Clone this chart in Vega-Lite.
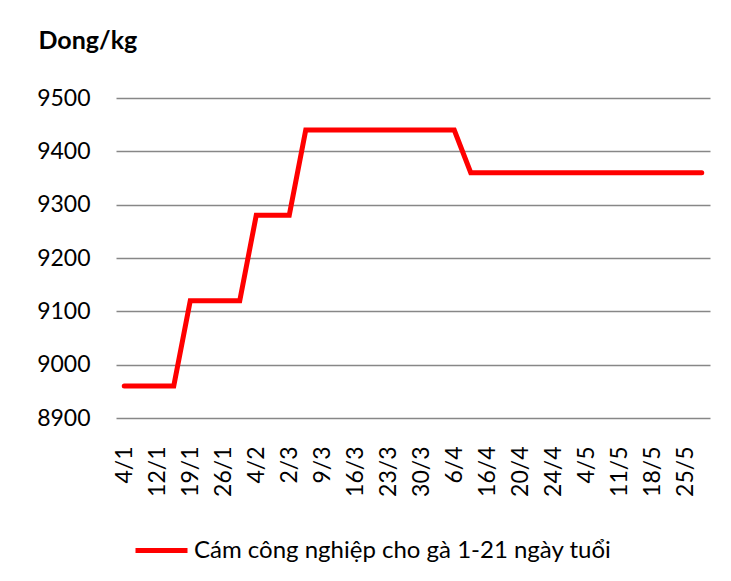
{
  "$schema": "https://vega.github.io/schema/vega-lite/v6.json",
  "width": 594,
  "height": 320,
  "autosize": "none",
  "padding": {"left": 116, "top": 98, "right": 21, "bottom": 163},
  "background": "white",
  "config": {
    "view": {"stroke": null},
    "font": "Lato"
  },
  "data": {
    "values": [
      {"date": "4/1", "price": 8960, "series": "Cám công nghiệp cho gà 1-21 ngày tuổi"},
      {"date": "8/1", "price": 8960, "series": "Cám công nghiệp cho gà 1-21 ngày tuổi"},
      {"date": "12/1", "price": 8960, "series": "Cám công nghiệp cho gà 1-21 ngày tuổi"},
      {"date": "15/1", "price": 8960, "series": "Cám công nghiệp cho gà 1-21 ngày tuổi"},
      {"date": "19/1", "price": 9120, "series": "Cám công nghiệp cho gà 1-21 ngày tuổi"},
      {"date": "22/1", "price": 9120, "series": "Cám công nghiệp cho gà 1-21 ngày tuổi"},
      {"date": "26/1", "price": 9120, "series": "Cám công nghiệp cho gà 1-21 ngày tuổi"},
      {"date": "29/1", "price": 9120, "series": "Cám công nghiệp cho gà 1-21 ngày tuổi"},
      {"date": "4/2", "price": 9280, "series": "Cám công nghiệp cho gà 1-21 ngày tuổi"},
      {"date": "23/2", "price": 9280, "series": "Cám công nghiệp cho gà 1-21 ngày tuổi"},
      {"date": "2/3", "price": 9280, "series": "Cám công nghiệp cho gà 1-21 ngày tuổi"},
      {"date": "5/3", "price": 9440, "series": "Cám công nghiệp cho gà 1-21 ngày tuổi"},
      {"date": "9/3", "price": 9440, "series": "Cám công nghiệp cho gà 1-21 ngày tuổi"},
      {"date": "12/3", "price": 9440, "series": "Cám công nghiệp cho gà 1-21 ngày tuổi"},
      {"date": "16/3", "price": 9440, "series": "Cám công nghiệp cho gà 1-21 ngày tuổi"},
      {"date": "19/3", "price": 9440, "series": "Cám công nghiệp cho gà 1-21 ngày tuổi"},
      {"date": "23/3", "price": 9440, "series": "Cám công nghiệp cho gà 1-21 ngày tuổi"},
      {"date": "26/3", "price": 9440, "series": "Cám công nghiệp cho gà 1-21 ngày tuổi"},
      {"date": "30/3", "price": 9440, "series": "Cám công nghiệp cho gà 1-21 ngày tuổi"},
      {"date": "2/4", "price": 9440, "series": "Cám công nghiệp cho gà 1-21 ngày tuổi"},
      {"date": "6/4", "price": 9440, "series": "Cám công nghiệp cho gà 1-21 ngày tuổi"},
      {"date": "9/4", "price": 9360, "series": "Cám công nghiệp cho gà 1-21 ngày tuổi"},
      {"date": "16/4", "price": 9360, "series": "Cám công nghiệp cho gà 1-21 ngày tuổi"},
      {"date": "18/4", "price": 9360, "series": "Cám công nghiệp cho gà 1-21 ngày tuổi"},
      {"date": "20/4", "price": 9360, "series": "Cám công nghiệp cho gà 1-21 ngày tuổi"},
      {"date": "22/4", "price": 9360, "series": "Cám công nghiệp cho gà 1-21 ngày tuổi"},
      {"date": "24/4", "price": 9360, "series": "Cám công nghiệp cho gà 1-21 ngày tuổi"},
      {"date": "27/4", "price": 9360, "series": "Cám công nghiệp cho gà 1-21 ngày tuổi"},
      {"date": "4/5", "price": 9360, "series": "Cám công nghiệp cho gà 1-21 ngày tuổi"},
      {"date": "7/5", "price": 9360, "series": "Cám công nghiệp cho gà 1-21 ngày tuổi"},
      {"date": "11/5", "price": 9360, "series": "Cám công nghiệp cho gà 1-21 ngày tuổi"},
      {"date": "14/5", "price": 9360, "series": "Cám công nghiệp cho gà 1-21 ngày tuổi"},
      {"date": "18/5", "price": 9360, "series": "Cám công nghiệp cho gà 1-21 ngày tuổi"},
      {"date": "21/5", "price": 9360, "series": "Cám công nghiệp cho gà 1-21 ngày tuổi"},
      {"date": "25/5", "price": 9360, "series": "Cám công nghiệp cho gà 1-21 ngày tuổi"},
      {"date": "28/5", "price": 9360, "series": "Cám công nghiệp cho gà 1-21 ngày tuổi"}
    ]
  },
  "mark": {"type": "line", "strokeWidth": 5, "strokeCap": "round"},
  "encoding": {
    "x": {
      "field": "date",
      "type": "nominal",
      "sort": null,
      "scale": {"type": "point", "padding": 0.5},
      "axis": {
        "title": null,
        "values": ["4/1", "12/1", "19/1", "26/1", "4/2", "2/3", "9/3", "16/3", "23/3", "30/3", "6/4", "16/4", "20/4", "24/4", "4/5", "11/5", "18/5", "25/5"],
        "labelAngle": -90,
        "labelAlign": "right",
        "labelBaseline": "middle",
        "labelPadding": 28,
        "labelFontSize": 23,
        "labelColor": "#000000",
        "labelFont": "Lato",
        "ticks": false,
        "domain": false,
        "grid": false,
        "labelOverlap": false
      }
    },
    "y": {
      "field": "price",
      "type": "quantitative",
      "scale": {"domain": [8900, 9500], "zero": false, "nice": false},
      "axis": {
        "values": [8900, 9000, 9100, 9200, 9300, 9400, 9500],
        "format": "d",
        "title": "Dong/kg",
        "titleAngle": 0,
        "titleAlign": "left",
        "titleBaseline": "alphabetic",
        "titleX": -78,
        "titleY": -50,
        "titleFont": "Lato",
        "titleFontSize": 25,
        "titleFontWeight": "bold",
        "titleColor": "#000000",
        "labelFontSize": 23,
        "labelFont": "Lato",
        "labelColor": "#000000",
        "labelPadding": 26,
        "ticks": false,
        "domain": false,
        "grid": true,
        "gridColor": "#878787",
        "gridWidth": 1.5
      }
    },
    "color": {
      "field": "series",
      "type": "nominal",
      "scale": {"range": ["#ff0000"]},
      "legend": {
        "title": null,
        "orient": "none",
        "legendX": 17,
        "legendY": 424,
        "padding": 0,
        "symbolType": "stroke",
        "symbolSize": 2704,
        "symbolStrokeWidth": 5,
        "labelFontSize": 24,
        "labelFont": "Lato",
        "labelColor": "#000000",
        "labelOffset": 4,
        "labelLimit": 600
      }
    }
  }
}
